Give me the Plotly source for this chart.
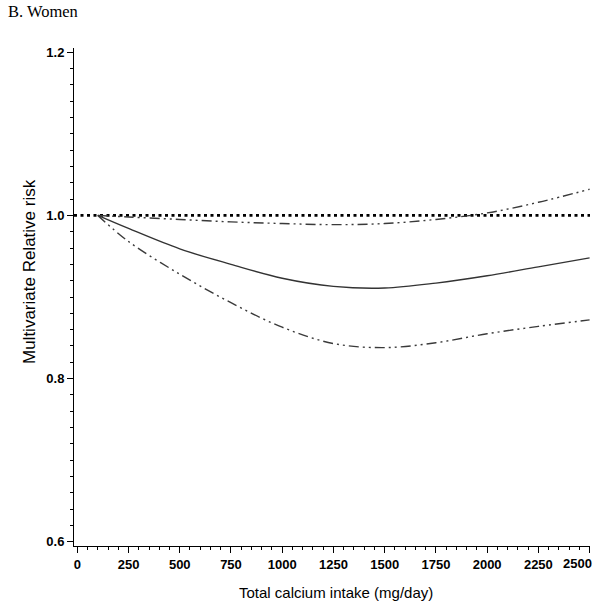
import plotly.graph_objects as go

# Data
calcium = [100, 250, 500, 750, 1000, 1250, 1500, 1750, 2000, 2250, 2500]
rr_point = [1.0, 0.984, 0.959, 0.940, 0.923, 0.913, 0.911, 0.917, 0.926, 0.937, 0.948]
rr_lower = [1.0, 0.968, 0.928, 0.893, 0.863, 0.843, 0.838, 0.844, 0.855, 0.864, 0.872]
rr_upper = [1.0, 0.998, 0.995, 0.992, 0.990, 0.9886, 0.990, 0.995, 1.003, 1.016, 1.032]
ref_x = [-16, 2502]
ref_y = [1.0, 1.0]

x_ticks = [0, 250, 500, 750, 1000, 1250, 1500, 1750, 2000, 2250, 2500]
x_tick_text = ["0", "250", "500", "750", "1000", "1250", "1500", "1750", "2000", "2250", ""]
last_x_label = "2500"
y_ticks = [0.6, 0.8, 1.0, 1.2]
y_tick_text = ["0.6", "0.8", "1.0", "1.2"]

fig = go.Figure()

fig.add_trace(go.Scatter(x=ref_x, y=ref_y, mode="lines",
                         line=dict(color="black", width=2.6, dash="3px,3.5px"),
                         showlegend=False, hoverinfo="skip"))
fig.add_trace(go.Scatter(x=calcium, y=rr_upper, mode="lines",
                         line=dict(color="#3a3a3a", width=1.4, shape="spline",
                                   dash="10px,4px,2px,4px,2px,4px"),
                         showlegend=False))
fig.add_trace(go.Scatter(x=calcium, y=rr_lower, mode="lines",
                         line=dict(color="#3a3a3a", width=1.4, shape="spline",
                                   dash="10px,4px,2px,4px,2px,4px"),
                         showlegend=False))
fig.add_trace(go.Scatter(x=calcium, y=rr_point, mode="lines",
                         line=dict(color="#333333", width=1.35, shape="spline"),
                         showlegend=False))

tickfont = dict(family="Liberation Sans, Arial, sans-serif", size=13, color="black", weight="bold")

fig.update_layout(
    width=601, height=606,
    margin=dict(l=74, r=11, t=48, b=60),
    paper_bgcolor="white", plot_bgcolor="white",
    showlegend=False,
    xaxis=dict(range=[-16, 2502], showgrid=False, zeroline=False,
               showline=True, linecolor="black", linewidth=1,
               tickmode="array", tickvals=x_ticks, ticktext=x_tick_text,
               ticks="outside", ticklen=6, tickwidth=1, tickcolor="black",
               tickfont=tickfont,
               minor=dict(dtick=50, tick0=0, ticks="outside", ticklen=3,
                          tickwidth=1, tickcolor="black", showgrid=False)),
    yaxis=dict(range=[0.595, 1.205], showgrid=False, zeroline=False,
               showline=True, linecolor="black", linewidth=1,
               tickmode="array", tickvals=y_ticks, ticktext=y_tick_text,
               ticks="outside", ticklen=6, tickwidth=1, tickcolor="black",
               tickfont=tickfont,
               minor=dict(dtick=0.02, tick0=0.6, ticks="outside", ticklen=3,
                          tickwidth=1, tickcolor="black", showgrid=False)),
    annotations=[
        dict(text=last_x_label, xref="x", yref="paper",
             x=x_ticks[-1], y=(546 - 563) / 498, xshift=-12,
             xanchor="center", yanchor="middle", showarrow=False,
             font=tickfont),
        dict(text="B. Women", xref="paper", yref="paper",
             x=(6 - 74) / 516, y=(546 - 12) / 498,
             xanchor="left", yanchor="middle", showarrow=False,
             font=dict(family="Liberation Serif, Times New Roman, serif", size=16.5, color="black")),
        dict(text="Multivariate Relative risk", xref="paper", yref="paper",
             x=(29 - 74) / 516, y=(546 - 272) / 498, textangle=-90,
             xanchor="center", yanchor="middle", showarrow=False,
             font=dict(family="Liberation Sans, Arial, sans-serif", size=17, color="black")),
        dict(text="Total calcium intake (mg/day)", xref="paper", yref="paper",
             x=(336 - 74) / 516, y=(546 - 592) / 498,
             xanchor="center", yanchor="middle", showarrow=False,
             font=dict(family="Liberation Sans, Arial, sans-serif", size=15, color="black")),
    ],
)

fig.write_html("out.html", config={"displayModeBar": False},
               post_script="document.body.style.margin='0';document.body.style.padding='0';")
